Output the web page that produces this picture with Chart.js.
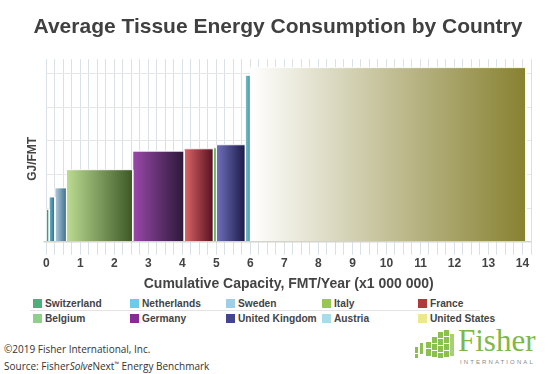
<!DOCTYPE html>
<html>
<head>
<meta charset="utf-8">
<script src="https://cdn.jsdelivr.net/npm/chart.js@4"></script>
<style>
  body { margin: 0; width: 550px; height: 374px; background: #fff; position: relative; overflow: hidden; font-family: "Liberation Sans", Arial, sans-serif; }
  #wrap { position: absolute; left: 0; top: 0; width: 550px; height: 295px; }
  #legend { position: absolute; left: 0; top: 296px; width: 550px; height: 30px; }
  .item { position: absolute; font-weight: bold; font-size: 10.2px; color: #444; white-space: nowrap; line-height: 12px; }
  .item span { display: inline-block; width: 9px; height: 9px; margin-right: 3px; vertical-align: -1px; }
  #sep { position: absolute; left: 30px; top: 310px; width: 450px; height: 1px; background: #e4e4e4; }
  .foot { position: absolute; left: 4px; font-size: 10px; color: #333; font-family: "Open Sans", sans-serif; }
  #logo { position: absolute; left: 412px; top: 328px; width: 138px; height: 46px; }
  #logo .name { position: absolute; left: 46px; top: -3px; font-family: "Liberation Serif", serif; font-size: 31px; line-height: 31px; color: #7cb84a; }
  #logo .intl { position: absolute; left: 48px; top: 31px; font-size: 6px; color: #8a8a8a; letter-spacing: 2.1px; }
  #logo i { position: absolute; background: #8cc04e; }
</style>
</head>
<body>
<div id="wrap"><canvas id="tissue-energy-chart"></canvas></div>
<div id="legend"></div>
<div id="sep"></div>
<div class="foot" style="top:342px">©2019 Fisher International, Inc.</div>
<div class="foot" style="top:359px">Source: Fisher<i>Solve</i>Next<sup style="font-size:6px">™</sup> Energy Benchmark</div>
<div id="logo">
  <i style="left:3px;top:19px;width:3px;height:6px"></i>
  <i style="left:3px;top:26px;width:3px;height:4px"></i>
  <i style="left:8px;top:15px;width:3px;height:11px"></i>
  <i style="left:14px;top:14px;width:5px;height:6px"></i>
  <i style="left:14px;top:21px;width:5px;height:7px"></i>
  <i style="left:20px;top:9px;width:5px;height:6px"></i>
  <i style="left:20px;top:16px;width:5px;height:6px"></i>
  <i style="left:20px;top:23px;width:5px;height:6px"></i>
  <i style="left:26px;top:4px;width:5px;height:6px"></i>
  <i style="left:26px;top:11px;width:5px;height:6px"></i>
  <i style="left:26px;top:18px;width:5px;height:6px"></i>
  <i style="left:26px;top:25px;width:5px;height:5px"></i>
  <i style="left:32px;top:2px;width:5px;height:6px"></i>
  <i style="left:32px;top:9px;width:5px;height:6px"></i>
  <i style="left:32px;top:16px;width:5px;height:6px"></i>
  <i style="left:32px;top:23px;width:5px;height:6px"></i>
  <i style="left:38px;top:6px;width:4px;height:22px;background:#a8d070"></i>
  <div class="name">Fisher</div>
  <div class="intl">INTERNATIONAL</div>
</div>
<script>
// bars in drawing order (lowest energy first)
const countries = ["Switzerland", "Netherlands", "Sweden", "Italy", "Germany", "France", "Belgium", "United Kingdom", "Austria", "United States"];
// capacity, million FMT/year (bar width)
const capacity = [0.08, 0.17, 0.34, 1.95, 1.51, 0.86, 0.09, 0.85, 0.15, 8.10];
// energy, GJ/FMT (bar height, no scale printed)
const energy = [0.96, 1.33, 1.60, 2.14, 2.69, 2.76, 2.79, 2.88, 4.94, 5.17];
// gradient light -> dark per bar
const lightColors = ["#48b890", "#72b8d0", "#b6cedc", "#bcdc92", "#9a48aa", "#da6666", "#74c474", "#7070bc", "#78c0c8", "#ffffff"];
const darkColors = ["#1f7c5c", "#2a6684", "#3a6e8c", "#3c5826", "#2c1838", "#561020", "#4aa64a", "#1a1a48", "#4898a6", "#878130"];
// legend (as in the original, row by row)
const legendNames = ["Switzerland", "Netherlands", "Sweden", "Italy", "France", "Belgium", "Germany", "United Kingdom", "Austria", "United States"];
const legendColors = ["#4cb07c", "#6ccbeb", "#9ecfe4", "#98c850", "#b03a3a", "#8ecf8a", "#8a2a98", "#444494", "#a8dce8", "#ece890"];

const legendBox = document.getElementById("legend");
const colX = [33, 130, 226, 322, 418];
legendNames.forEach((name, i) => {
  const el = document.createElement("div");
  el.className = "item";
  el.style.left = colX[i % 5] + "px";
  el.style.top = (i < 5 ? 2 : 17) + "px";
  el.innerHTML = '<span style="background:' + legendColors[i] + '"></span>' + name;
  legendBox.appendChild(el);
});

// build rectangle outlines from the cumulative capacity
let start = 0;
const datasets = countries.map((name, i) => {
  const x0 = start;
  const x1 = start + capacity[i];
  start = x1;
  return {
    label: name,
    data: [{ x: x0, y: 0 }, { x: x0, y: energy[i] }, { x: x1, y: energy[i] }, { x: x1, y: 0 }],
    showLine: true,
    fill: "origin",
    tension: 0,
    pointRadius: 0,
    borderWidth: 1,
    borderColor: "rgba(255,255,255,0.9)",
    backgroundColor: (context) => {
      const { chart } = context;
      if (!chart.chartArea) return lightColors[i];
      const px0 = chart.scales.x.getPixelForValue(x0);
      const px1 = chart.scales.x.getPixelForValue(x1);
      const g = chart.ctx.createLinearGradient(px0, 0, px1, 0);
      g.addColorStop(0, lightColors[i]);
      g.addColorStop(1, darkColors[i]);
      return g;
    },
  };
});

const baseLine = {
  id: "baseLine",
  afterDatasetsDraw(chart) {
    const { ctx, chartArea, scales } = chart;
    const y = scales.y.getPixelForValue(0);
    ctx.save();
    ctx.strokeStyle = "#d4d4cc";
    ctx.lineWidth = 1.5;
    ctx.beginPath();
    ctx.moveTo(chartArea.left - 3, y);
    ctx.lineTo(chartArea.right, y);
    ctx.stroke();
    ctx.restore();
  },
};

new Chart(document.getElementById("tissue-energy-chart"), {
  type: "scatter",
  data: { datasets },
  plugins: [baseLine],
  options: {
    responsive: true,
    maintainAspectRatio: false,
    animation: false,
    layout: { padding: { left: 25, right: 19, bottom: 2 } },
    plugins: {
      legend: { display: false },
      tooltip: { enabled: false },
      title: {
        display: true,
        text: "Average Tissue Energy Consumption by Country",
        color: "#404040",
        font: { family: "Liberation Sans", size: 21, weight: "bold" },
        padding: { top: 15, bottom: 19 },
      },
    },
    scales: {
      x: {
        type: "linear",
        min: 0,
        max: 14.25,
        border: { display: false },
        grid: {
          color: (c) => (Math.abs(c.tick.value * 4 - Math.round(c.tick.value * 4)) < 1e-6 ? "#d9e1e8" : "transparent"),
          tickLength: 13,
        },
        ticks: {
          stepSize: 0.25,
          autoSkip: false,
          maxRotation: 0,
          padding: 2,
          color: "#444",
          font: { family: "Liberation Sans", size: 12, weight: "bold" },
          callback: (v) => (Number.isInteger(v) ? v : ""),
        },
        title: {
          display: true,
          text: "Cumulative Capacity, FMT/Year (x1 000 000)",
          color: "#444",
          font: { family: "Liberation Sans", size: 14, weight: "bold" },
          padding: { top: 3, bottom: 0 },
        },
      },
      y: {
        min: 0,
        max: 5.42,
        border: { display: false },
        grid: {
          color: (c) => (Number.isInteger(c.tick.value) ? "#e6e6e6" : "transparent"),
          drawTicks: false,
        },
        ticks: { display: false, stepSize: 1 },
        title: {
          display: true,
          text: "GJ/FMT     ",
          color: "#444",
          font: { family: "Liberation Sans", size: 12, weight: "bold" },
          padding: { top: 0, bottom: 7 },
        },
      },
    },
  },
});
</script>
</body>
</html>
